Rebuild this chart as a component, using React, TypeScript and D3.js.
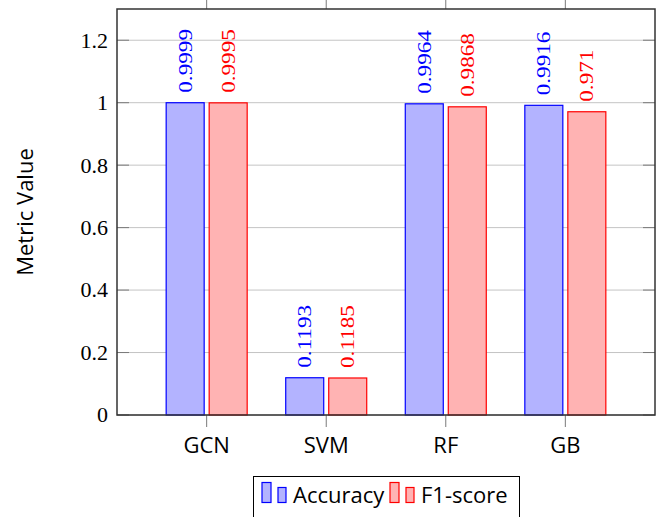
import React from 'react';
import * as d3 from 'd3';

const categories = ['GCN', 'SVM', 'RF', 'GB'];
const accuracy = [0.9999, 0.1193, 0.9964, 0.9916];
const f1 = [0.9995, 0.1185, 0.9868, 0.971];
const accuracyLabels = ['0.9999', '0.1193', '0.9964', '0.9916'];
const f1Labels = ['0.9995', '0.1185', '0.9868', '0.971'];
const yTicks = [0, 0.2, 0.4, 0.6, 0.8, 1, 1.2];
const yTickLabels = ['0', '0.2', '0.4', '0.6', '0.8', '1', '1.2'];
const seriesNames = ['Accuracy', 'F1-score'];

const W = 665;
const H = 517;
const L = 117, R = 655, T = 9, B = 415;
const SERIF = '"Liberation Serif", "Times New Roman", serif';
const SANS = '"Open Sans", "DejaVu Sans", sans-serif';

const series = [
  { name: seriesNames[0], values: accuracy, labels: accuracyLabels, fill: '#b3b3ff', stroke: '#0000ff', off: -21.5 },
  { name: seriesNames[1], values: f1, labels: f1Labels, fill: '#ffb3b3', stroke: '#ff0000', off: 21.5 },
];

export default function App() {
  const x = d3.scalePoint<string>().domain(categories).range([L, R]).padding(0.75);
  const y = d3.scaleLinear().domain([0, 1.3]).range([B, T]);
  const bw = 38;
  const lfs = 19;

  return (
    <svg width={W} height={H} style={{ position: 'absolute', left: 0, top: 0, background: '#fff' }}>
      {/* grid */}
      {yTicks.map((t, i) => (
        <line key={'g' + i} x1={L} x2={R} y1={y(t)} y2={y(t)} stroke="#c4c4c4" strokeWidth={1} />
      ))}
      {/* y ticks */}
      {yTicks.map((t, i) => (
        <g key={'yt' + i}>
          <line x1={L} x2={L + 12} y1={y(t)} y2={y(t)} stroke="#7a7a7a" strokeWidth={1} />
          <line x1={R - 12} x2={R} y1={y(t)} y2={y(t)} stroke="#7a7a7a" strokeWidth={1} />
          <text x={108} y={y(t) + 7.4} textAnchor="end" fontFamily={SERIF} fontSize={22} fill="#000">
            {yTickLabels[i]}
          </text>
        </g>
      ))}
      {/* x ticks */}
      {categories.map((c) => (
        <g key={'xt' + c}>
          <line x1={x(c)} x2={x(c)} y1={B} y2={B + 12} stroke="#7a7a7a" strokeWidth={1} />
          <line x1={x(c)} x2={x(c)} y1={T} y2={T - 12} stroke="#7a7a7a" strokeWidth={1} />
          <text x={x(c)} y={452.5} textAnchor="middle" fontFamily={SANS} fontSize={22} fill="#000">
            {c}
          </text>
        </g>
      ))}
      {/* bars */}
      {series.map((s) =>
        categories.map((c, i) => {
          const cx = (x(c) as number) + s.off;
          const top = y(s.values[i]);
          return (
            <g key={s.name + c}>
              <rect x={cx - bw / 2} y={top} width={bw} height={B - top} fill={s.fill} stroke={s.stroke} strokeWidth={1.2} />
              <text
                transform={`translate(${cx},${top - 10}) rotate(-90) scale(1.22,1)`}
                dy="0.34em"
                fontFamily={SERIF}
                fontSize={lfs}
                fill={s.stroke}
              >
                {s.labels[i]}
              </text>
            </g>
          );
        })
      )}
      {/* axis box */}
      <rect x={L} y={T} width={R - L} height={B - T} fill="none" stroke="#333" strokeWidth={1.5} />
      {/* y title */}
      <text transform={`translate(33,212) rotate(-90)`} textAnchor="middle" fontFamily={SANS} fontSize={22} fill="#000">
        Metric Value
      </text>
      {/* legend */}
      <g>
        <rect x={253.5} y={476.5} width={266} height={60} fill="#fff" stroke="#000" strokeWidth={1} />
        {series.map((s, k) => {
          const ox = k === 0 ? 262 : 390;
          return (
            <g key={'lg' + s.name}>
              <rect x={ox} y={482.5} width={9} height={20} fill={s.fill} stroke={s.stroke} strokeWidth={1.2} />
              <rect x={ox + 16} y={487.5} width={8} height={15} fill={s.fill} stroke={s.stroke} strokeWidth={1.2} />
              <text x={ox + 31} y={503} fontFamily={SANS} fontSize={22} fill="#000">
                {s.name}
              </text>
            </g>
          );
        })}
      </g>
    </svg>
  );
}
